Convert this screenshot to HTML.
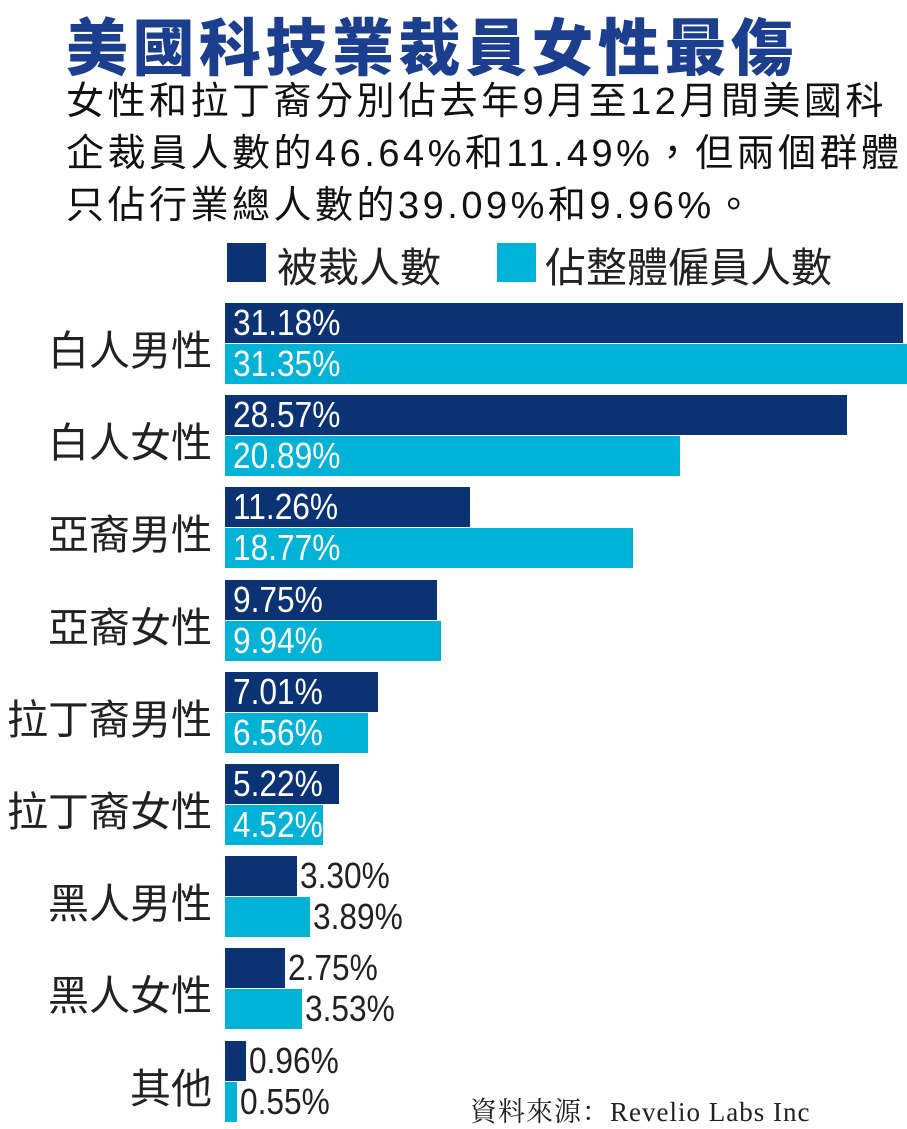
<!DOCTYPE html>
<html><head><meta charset="utf-8"><style>
body{margin:0;width:907px;height:1129px;background:#fff;position:relative;overflow:hidden;font-family:"Liberation Sans","Noto Sans CJK TC",sans-serif}
.a{position:absolute;white-space:nowrap}
.t{left:66px;top:-2px;font-size:62px;font-weight:900;color:#1c3e8e;letter-spacing:4.5px}
.s{left:66px;font-size:38px;color:#111;line-height:52px;letter-spacing:3.5px}
.c{font-size:41px;color:#222;right:695px;text-align:right}
.b{position:absolute;left:225px;height:40px}
.d{background:#0b3374}.l{background:#00b3d6}
.v{position:absolute;font-size:36px;line-height:40px;transform:scaleX(0.88);transform-origin:left center}
</style></head><body>
<div class="a t">美國科技業裁員女性最傷</div>
<div class="a s" style="top:76px">女性和拉丁裔分別佔去年9月至12月間美國科<br>企裁員人數的46.64%和11.49%，但兩個群體<br>只佔行業總人數的39.09%和9.96%。</div>
<div class="a" style="left:227px;top:243px;width:39px;height:39px;background:#0b3374"></div>
<div class="a" style="left:277px;top:234px;font-size:41px;color:#222">被裁人數</div>
<div class="a" style="left:497px;top:243px;width:39px;height:39px;background:#00b3d6"></div>
<div class="a" style="left:545px;top:234px;font-size:41px;color:#222">佔整體僱員人數</div>
<div id="g"></div>
<div class="a" style="left:470px;top:1090px;font-size:27px;letter-spacing:1px;color:#222;font-family:'Liberation Serif','Noto Serif CJK SC',serif">資料來源：Revelio Labs Inc</div>
<script>
var D=[["白人男性",31.18,31.35],["白人女性",28.57,20.89],["亞裔男性",11.26,18.77],["亞裔女性",9.75,9.94],["拉丁裔男性",7.01,6.56],["拉丁裔女性",5.22,4.52],["黑人男性",3.30,3.89],["黑人女性",2.75,3.53],["其他",0.96,0.55]];
var h="",k=21.76;
D.forEach(function(r,i){var y=303+92.2*i;
h+='<div class="a c" style="top:'+(y+14)+'px">'+r[0]+'</div>';
[[r[1],"d",0],[r[2],"l",41]].forEach(function(q){var w=q[0]*k,yy=y+q[2];
h+='<div class="b '+q[1]+'" style="top:'+yy+'px;width:'+w+'px"></div>';
var inside=q[0]>4.4,x=inside?233:225+w+3;
h+='<div class="v" style="top:'+yy+'px;left:'+x+'px;color:'+(inside?'#fff':'#222')+'">'+q[0].toFixed(2)+'%</div>';});});
document.getElementById("g").innerHTML=h;
</script>
</body></html>
